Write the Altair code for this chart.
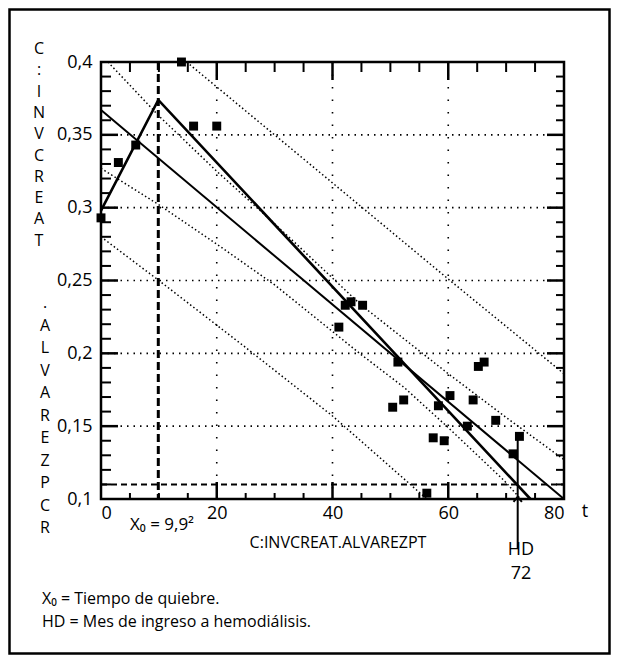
import altair as alt
import pandas as pd

# ---------------- data ----------------
pts_t = [0, 3.0, 6.0, 13.9, 16.0, 20.0, 41.1, 42.2, 43.2, 45.2, 50.4, 51.3, 52.3,
         56.3, 57.4, 58.3, 59.3, 60.3, 63.3, 64.3, 65.2, 66.2, 68.2, 71.2, 72.3]
pts_v = [0.293, 0.331, 0.343, 0.400, 0.356, 0.356, 0.218, 0.233, 0.2354, 0.233, 0.163, 0.194, 0.168,
         0.104, 0.142, 0.164, 0.140, 0.171, 0.150, 0.168, 0.191, 0.194, 0.154, 0.131, 0.143]

# segmented (broken-stick) fit
seg_t = [0, 9.9, 74.2]
seg_v = [0.298, 0.374, 0.100]
# simple linear fit
lin_t = [0, 80]
lin_v = [0.367, 0.100]
# dotted bands
uc_t = [1.2, 10, 20, 30, 45, 60, 70, 80]
uc_v = [0.400, 0.363, 0.325, 0.289, 0.233, 0.186, 0.156, 0.127]
lc_t = [0, 10, 20, 30, 45, 52.4, 60, 69.7, 72.5]
lc_v = [0.327, 0.302, 0.275, 0.247, 0.199, 0.1765, 0.149, 0.1125, 0.100]
up_t = [14.8, 40, 60, 80]
up_v = [0.400, 0.317, 0.251, 0.186]
lp_t = [0, 10, 25, 40, 56.3]
lp_v = [0.280, 0.250, 0.204, 0.157, 0.100]

x0_break = 9.9
threshold = 0.11
hd_month = 72
hd_value = 0.143

x_labels = [0, 20, 40, 60, 80]
y_labels = [0.1, 0.15, 0.2, 0.25, 0.3, 0.35, 0.4]
x_grid = [20, 40, 60]
y_grid = [0.15, 0.2, 0.25, 0.3, 0.35]
x_major_ticks = [20, 40, 60]
x_minor_ticks = [5, 10, 15, 25, 30, 35, 45, 50, 55, 65, 70, 75]
y_major_ticks = [0.15, 0.2, 0.25, 0.3, 0.35]
y_minor_ticks = [0.11, 0.12, 0.13, 0.14, 0.16, 0.17, 0.18, 0.19, 0.21, 0.22, 0.23, 0.24,
                 0.26, 0.27, 0.28, 0.29, 0.31, 0.32, 0.33, 0.34, 0.36, 0.37, 0.38, 0.39]

y_title_top = ["C", ":", "I", "N", "V", "C", "R", "E", "A", "T"]
y_title_bottom = [".", "A", "L", "V", "A", "R", "E", "Z", "P", "C", "R"]

# ---------------- layout ----------------
W, H = 463, 437
FONT = "Open Sans"
XS = alt.Scale(domain=[0, 80], nice=False, zero=False)
YS = alt.Scale(domain=[0.1, 0.4], nice=False, zero=False)

XA = alt.Axis(values=x_labels, format="d", domain=False, ticks=False, grid=False, title=None,
              labelFont=FONT, labelFontSize=18, labelColor="black", labelPadding=5)
YA = alt.Axis(values=y_labels, labelExpr="replace(format(datum.value, '.2~f'), '.', ',')",
              domain=False, ticks=False, grid=False, title=None,
              labelFont=FONT, labelFontSize=18, labelColor="black", labelPadding=9)


def X(f="t"):
    return alt.X(f"{f}:Q", scale=XS, axis=XA)


def Y(f="v"):
    return alt.Y(f"{f}:Q", scale=YS, axis=YA)


def df(t, v):
    return pd.DataFrame({"t": t, "v": v})


one = pd.DataFrame({"a": [0]})

layers = []

# data points first
layers.append(alt.Chart(df(pts_t, pts_v)).mark_square(size=80, color="black", opacity=1).encode(
    x=X(), y=Y()))

# grid
layers.append(alt.Chart(pd.DataFrame({"t": x_grid})).mark_rule(
    color="black", strokeWidth=1.6, strokeDash=[1.5, 11]).encode(
    x=X(), y=alt.value(0), y2=alt.value(H)))
layers.append(alt.Chart(pd.DataFrame({"v": y_grid})).mark_rule(
    color="black", strokeWidth=1.6, strokeDash=[1.5, 5]).encode(
    y=Y(), x=alt.value(0), x2=alt.value(W)))

# dotted bands
for bt, bv in [(uc_t, uc_v), (lc_t, lc_v), (up_t, up_v), (lp_t, lp_v)]:
    layers.append(alt.Chart(df(bt, bv)).mark_line(
        color="black", strokeWidth=1.5, strokeDash=[1.5, 2.5]).encode(
        x=X(), y=Y(), order="t:Q"))

# reference dashed lines
layers.append(alt.Chart(pd.DataFrame({"t": [x0_break]})).mark_rule(
    color="black", strokeWidth=3, strokeDash=[8, 4]).encode(
    x=X(), y=alt.value(0), y2=alt.value(H)))
layers.append(alt.Chart(pd.DataFrame({"v": [threshold]})).mark_rule(
    color="black", strokeWidth=2, strokeDash=[6, 4]).encode(
    y=Y(), x=alt.value(0), x2=alt.value(W)))

# fitted lines
layers.append(alt.Chart(df(lin_t, lin_v)).mark_line(color="black", strokeWidth=2).encode(
    x=X(), y=Y(), order="t:Q"))
layers.append(alt.Chart(df(seg_t, seg_v)).mark_line(color="black", strokeWidth=2.6).encode(
    x=X(), y=Y(), order="t:Q"))

# ticks (inward)
layers.append(alt.Chart(pd.DataFrame({"t": x_major_ticks})).mark_rule(color="black", strokeWidth=2.5).encode(
    x=X(), y=alt.value(H), y2=alt.value(H - 17)))
layers.append(alt.Chart(pd.DataFrame({"t": x_minor_ticks})).mark_rule(color="black", strokeWidth=2).encode(
    x=X(), y=alt.value(H), y2=alt.value(H - 6)))
layers.append(alt.Chart(pd.DataFrame({"t": x_major_ticks})).mark_rule(color="black", strokeWidth=2.5).encode(
    x=X(), y=alt.value(0), y2=alt.value(18)))
layers.append(alt.Chart(pd.DataFrame({"t": x_minor_ticks})).mark_rule(color="black", strokeWidth=2).encode(
    x=X(), y=alt.value(0), y2=alt.value(10)))
layers.append(alt.Chart(pd.DataFrame({"v": y_major_ticks})).mark_rule(color="black", strokeWidth=2.5).encode(
    y=Y(), x=alt.value(0), x2=alt.value(17)))
layers.append(alt.Chart(pd.DataFrame({"v": y_minor_ticks})).mark_rule(color="black", strokeWidth=2).encode(
    y=Y(), x=alt.value(0), x2=alt.value(10)))
layers.append(alt.Chart(pd.DataFrame({"v": y_major_ticks})).mark_rule(color="black", strokeWidth=2.5).encode(
    y=Y(), x=alt.value(W), x2=alt.value(W - 17)))
layers.append(alt.Chart(pd.DataFrame({"v": y_minor_ticks})).mark_rule(color="black", strokeWidth=2).encode(
    y=Y(), x=alt.value(W), x2=alt.value(W - 8)))

# plot frame
layers.append(alt.Chart(one).mark_rect(fill="transparent", stroke="black", strokeWidth=2.5).encode(
    x=alt.value(0), x2=alt.value(W), y=alt.value(0), y2=alt.value(H)))

# HD arrow
layers.append(alt.Chart(pd.DataFrame({"t": [hd_month], "v": [hd_value]})).mark_rule(
    color="black", strokeWidth=2).encode(x=X(), y=Y(), y2=alt.value(H + 49)))
layers.append(alt.Chart(pd.DataFrame({"t": [hd_month], "v": [0.1]})).mark_point(
    shape="M -1 0.7 L 0 -0.5 L 1 0.7", filled=False, color="black", strokeWidth=2,
    size=70, opacity=1).encode(x=X(), y=Y()))


# texts
def txt(s, x, y, align="center", size=18, baseline="middle"):
    return alt.Chart(pd.DataFrame({"s": [s]})).mark_text(
        align=align, baseline=baseline, font=FONT, fontSize=size, color="black").encode(
        text="s:N", x=alt.value(x), y=alt.value(y))


layers.append(txt("t", 484, 450))
layers.append(txt("X\u2080 = 9,9\u00b2", 29, 463, align="left", size=17))
layers.append(txt("C:INVCREAT.ALVAREZPT", 237, 481, size=16))
layers.append(txt("HD", 420, 488))
layers.append(txt("72", 420, 512))
layers.append(txt("X\u2080 = Tiempo de quiebre.", -59, 537, align="left", size=16))
layers.append(txt("HD = Mes de ingreso a hemodiálisis.", -59, 560, align="left", size=16))

# vertical stacked y title
yt_top = alt.Chart(pd.DataFrame({"s": [y_title_top]})).mark_text(
    align="center", baseline="alphabetic", font=FONT, fontSize=16, color="black",
    lineHeight=21.3).encode(text="s", x=alt.value(-62), y=alt.value(-8))
yt_bot = alt.Chart(pd.DataFrame({"s": [y_title_bottom]})).mark_text(
    align="center", baseline="alphabetic", font=FONT, fontSize=16, color="black",
    lineHeight=22.5).encode(text="s", x=alt.value(-56), y=alt.value(246))
layers += [yt_top, yt_bot]

# outer frame
layers.append(alt.Chart(one).mark_rect(fill="transparent", stroke="black", strokeWidth=2.5).encode(
    x=alt.value(-91.5), x2=alt.value(508.5), y=alt.value(-52.5), y2=alt.value(591.5)))

chart = alt.layer(*layers).properties(
    width=W, height=H,
    padding={"left": 93, "top": 54, "right": 47, "bottom": 156},
    autosize=alt.AutoSizeParams(type="none"),
).configure_view(stroke=None)

chart.save("out.html", embed_options={"renderer": "svg", "actions": False})
